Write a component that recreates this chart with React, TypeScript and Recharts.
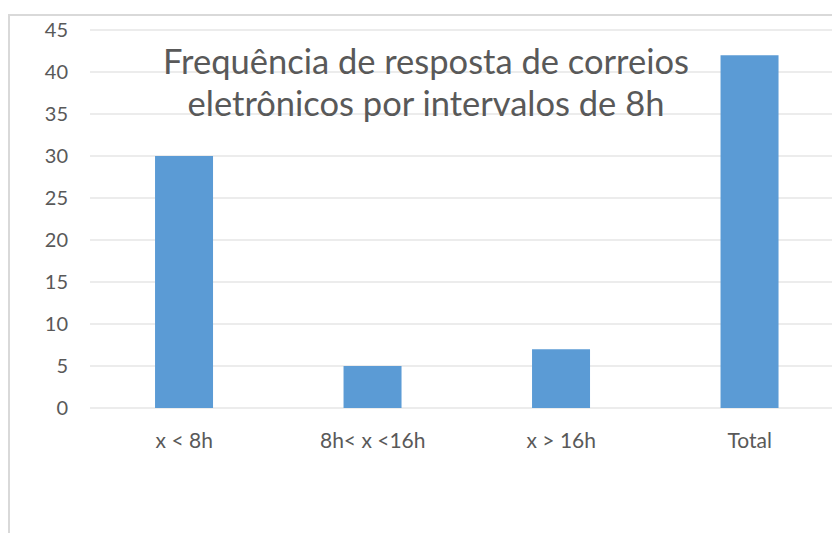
import { Bar, BarChart, CartesianGrid, XAxis, YAxis } from "recharts";

const categories = ["x < 8h", "8h< x <16h", "x > 16h", "Total"];
const frequencies = [30, 5, 7, 42];
const yTicks = [0, 5, 10, 15, 20, 25, 30, 35, 40, 45];
const titleLines = ["Frequência de resposta de correios", "eletrônicos por intervalos de 8h"];

const data = categories.map((name, i) => ({ name, value: frequencies[i] }));

const font = "Lato, 'Noto Sans', sans-serif";
const ink = "#595959";

export default function App() {
  return (
    <div
      style={{
        position: "fixed",
        left: 0,
        top: 0,
        width: 832,
        height: 533,
        overflow: "hidden",
        background: "#fff",
        fontFamily: font,
      }}
    >
      <div
        style={{
          position: "absolute",
          left: 8,
          top: 14,
          width: 900,
          height: 600,
          border: "2px solid #d9d9d9",
        }}
      />
      <div style={{ position: "absolute", left: 0, top: 0 }}>
        <BarChart
          width={900}
          height={533}
          data={data}
          margin={{ top: 30, right: 56, bottom: 95, left: 10 }}
          barCategoryGap="34.5%"
        >
          <CartesianGrid stroke="#d9d9d9" vertical={false} />
          <XAxis
            dataKey="name"
            height={30}
            axisLine={false}
            tickLine={false}
            tickSize={0}
            tickMargin={25}
            tick={{ fill: ink, fontSize: 21, fontFamily: font }}
          />
          <YAxis
            width={80}
            domain={[0, 45]}
            ticks={yTicks}
            axisLine={false}
            tickLine={false}
            tickSize={0}
            tickMargin={22}
            tick={{ fill: ink, fontSize: 20, fontFamily: font }}
          />
          <Bar dataKey="value" fill="#5b9bd5" isAnimationActive={false} />
        </BarChart>
      </div>
      <div
        style={{
          position: "absolute",
          left: 126,
          top: 40,
          width: 600,
          textAlign: "center",
          color: ink,
          fontSize: 34.5,
          lineHeight: "42px",
        }}
      >
        {titleLines.map((line) => (
          <div key={line}>{line}</div>
        ))}
      </div>
    </div>
  );
}
